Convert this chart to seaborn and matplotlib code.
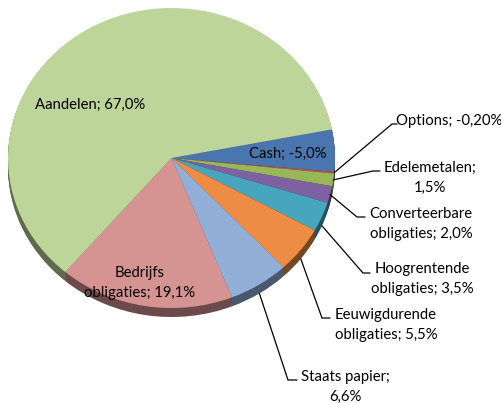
import numpy as np
import matplotlib
matplotlib.use("Agg")
import matplotlib.pyplot as plt
import seaborn as sns
from matplotlib.colors import to_rgb

# Portfolio allocation (percent of assets)
categories = ["Cash", "Options", "Edelemetalen", "Converteerbare\nobligaties",
              "Hoogrentende\nobligaties", "Eeuwigdurende\nobligaties",
              "Staats papier", "Bedrijfs\nobligaties", "Aandelen"]
values = [-5.0, -0.20, 1.5, 2.0, 3.5, 5.5, 6.6, 19.1, 67.0]
decimals = [1, 2, 1, 1, 1, 1, 1, 1, 1]
separators = ["; ", "; ", ";\n", "; ", "; ", "; ", ";\n", "; ", "; "]
colors = ["#4A76B0", "#C0504D", "#98B857", "#7D61A0", "#47A5BE",
          "#EE8C43", "#92AFD8", "#D59492", "#BED59A"]

sns.set_theme(style="white")
plt.rcParams["font.family"] = ["Lato", "DejaVu Sans"]

W, H = 502, 403
fig = plt.figure(figsize=(W / 100, H / 100), dpi=100)
ax = fig.add_axes([0, 0, 1, 1])

# ellipse geometry of the tilted pie, in pixels
cx, cy, rx, ry, depth = 171.5, 158.0, 163.5, 150.0, 9


def to_data(px, py):
    return (px - cx) / rx, (cy - py) / ry


sizes = np.abs(values)
start = 11
dark = [tuple(c * 0.5 for c in to_rgb(col)) for col in colors]

# side wall: stacked darker copies below the top surface
for d in range(depth, 0, -1):
    ax.pie(sizes, colors=dark, startangle=start, counterclock=False,
           center=(0, -d / ry), radius=1.0, wedgeprops=dict(linewidth=0))

wedges, _ = ax.pie(sizes, colors=colors, startangle=start, counterclock=False,
                   center=(0, 0), radius=1.0, wedgeprops=dict(linewidth=0))

ax.set_aspect("auto")
ax.set_xlim(-cx / rx, (W - cx) / rx)
ax.set_ylim(-(H - cy) / ry, cy / ry)
ax.axis("off")


def fmt(v, n):
    return f"{v:.{n}f}".replace(".", ",") + "%"


labels = [f"{c}{s}{fmt(v, n)}" for c, s, v, n in zip(categories, separators, values, decimals)]

text_kw = dict(fontsize=10.7, color="black", ha="center", va="center", linespacing=1.6)

# labels drawn on the slices
inside = {"Cash": (288, 154), "Bedrijfs\nobligaties": (140, 283), "Aandelen": (90, 105)}
# labels outside with leader lines: text centre, elbow, end of horizontal tick
outside = {
    "Options": ((449, 121), (392, 124), (397, 124)),
    "Edelemetalen": ((430, 178), (373, 171), (380, 171)),
    "Converteerbare\nobligaties": ((421, 224), (357, 217), (365, 217)),
    "Hoogrentende\nobligaties": ((422, 279), (363, 273), (370, 273)),
    "Eeuwigdurende\nobligaties": ((386, 325), (322, 318), (330, 318)),
    "Staats papier": ((345, 387), (288, 380), (297, 380)),
}

for w, cat, lab in zip(wedges, categories, labels):
    if cat in inside:
        ax.text(*to_data(*inside[cat]), lab, **text_kw)
        continue
    (tx, ty), elbow, end = outside[cat]
    ang = np.deg2rad((w.theta1 + w.theta2) / 2)
    sx, sy = np.cos(ang), np.sin(ang)
    if sy < -0.3:
        sy -= depth / ry
    ex, ey = to_data(*elbow)
    fx, fy = to_data(*end)
    ax.plot([sx, ex, fx], [sy, ey, fy], color="black", lw=0.9, solid_joinstyle="miter")
    ax.text(*to_data(tx, ty), lab, **text_kw)

fig.savefig("out.png", dpi=100)
